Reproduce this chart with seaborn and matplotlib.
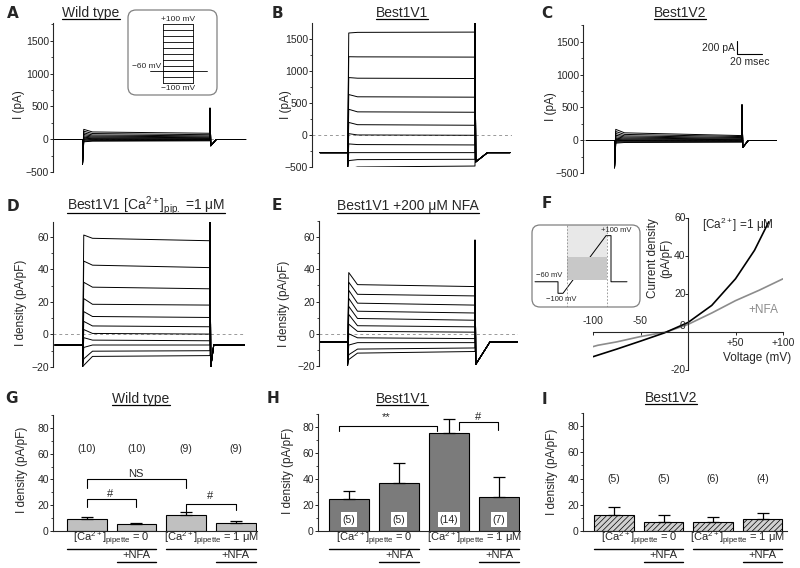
import pandas as pd
import matplotlib
matplotlib.use("Agg")
import matplotlib.pyplot as plt
import matplotlib.transforms as mtransforms
import seaborn as sns
from matplotlib.lines import Line2D
from matplotlib.patches import FancyBboxPatch, Rectangle
from matplotlib.ticker import MultipleLocator

sns.set_style("ticks")
plt.rcParams.update({
    "font.family": ["Liberation Sans", "DejaVu Sans"],
    "mathtext.fontset": "custom",
    "mathtext.rm": "Liberation Sans",
    "mathtext.it": "Liberation Sans:italic",
    "mathtext.bf": "Liberation Sans:bold",
    "mathtext.default": "regular",
    "axes.linewidth": 0.8,
    "hatch.linewidth": 0.5,
})

# ---------------- data ----------------
# voltage steps of the protocol (mV), one trace per step
step_mv = [-100, -80, -60, -40, -20, 0, 20, 40, 60, 80, 100]
T_ON, T_OFF, T_END = 22, 124, 152  # ms

# A: wild type (pA) -> value at onset, after 8 ms, at end of step
wt_peak = [-40, -30, -16, -2, 14, 30, 50, 72, 96, 122, 150]
wt_start = [-30, -22, -13, -3, 8, 19, 32, 47, 64, 86, 110]
wt_end = [-25, -18, -11, -4, 4, 12, 22, 35, 50, 68, 90]
wt_hold, wt_spikes = -5, (-380, 470, -100)

# B: Best1V1 (pA)
v1_peak = [-530, -400, -276, -140, 20, 195, 400, 630, 895, 1220, 1590]
v1_start = [-500, -385, -276, -150, 0, 160, 360, 595, 885, 1218, 1600]
v1_end = [-485, -380, -276, -156, -5, 151, 354, 589, 880, 1214, 1604]
v1_hold, v1_spikes = -276, (-540, 1740, -420)

# C: Best1V2 (pA)
v2_peak = [-45, -32, -18, -4, 12, 30, 52, 76, 102, 132, 165]
v2_start = [-35, -26, -15, -5, 6, 18, 32, 48, 66, 88, 112]
v2_end = [-30, -22, -15, -8, 0, 8, 17, 28, 40, 55, 70]
v2_hold, v2_spikes = -5, (-420, 535, -110)

# D: Best1V1, 1 uM Ca in pipette (pA/pF)
ca_peak = [-19, -15, -8, -2, 3, 8, 14, 22, 32, 45, 61]
ca_start = [-13.5, -10.3, -6.5, -3.5, 0.6, 5.2, 11, 18.5, 29, 42.5, 59]
ca_end = [-13, -10, -6.5, -3.9, 0.2, 4.7, 10.4, 18, 28, 41, 57.5]
ca_hold, ca_spikes = -6.5, (-20, 69, -20)

# E: Best1V1 + 200 uM NFA (pA/pF)
nfa_peak = [-16, -13, -7, 0, 6, 12, 17, 22, 27, 32, 38]
nfa_start = [-12, -9.5, -5.5, -2.5, 1.5, 5, 9.5, 14, 19, 24.5, 30.5]
nfa_end = [-11, -8.8, -5.5, -3, 1, 4.3, 8.4, 12.9, 17.8, 23.5, 29.3]
nfa_hold, nfa_spikes = -5, (-20, 58, -19)

# F: ramp I-V (pA/pF)
iv_mv_ca = [-100, -75, -50, -25, 0, 25, 50, 70, 85]
iv_ca = [-13, -9, -4.8, -0.5, 5, 14, 28, 43, 58]
iv_mv_nfa = [-100, -95, -75, -50, -23, 0, 25, 50, 75, 100]
iv_nfa = [-7.7, -7, -5.2, -2.4, 0, 4, 10, 16.5, 22, 28]
iv_xticks = [-100, -50, 50, 100]
iv_xlabels = ["-100", "-50", "+50", "+100"]
iv_yticks = [60, 40, 20, 0, -20]

# ramp protocol of the F inset
prot_ms = [0, 23, 23, 28, 71, 76, 76, 92]
prot_mv = [-60, -60, -100, -100, 100, 100, -60, -60]

# G-I: summary bars (pA/pF)
conds = ["Ca0", "Ca0 +NFA", "Ca1", "Ca1 +NFA"]
wt_mean = [9.5, 5.1, 12.6, 6.2]
wt_sem = [1.6, 1.1, 2.0, 1.5]
wt_n = ["(10)", "(10)", "(9)", "(9)"]
b1_mean = [24.5, 36.6, 75.4, 26.3]
b1_sem = [6.2, 15.5, 10.8, 15.0]
b1_n = ["(5)", "(5)", "(14)", "(7)"]
b2_mean = [12.1, 7.0, 7.0, 8.8]
b2_sem = [6.5, 5.1, 3.3, 5.1]
b2_n = ["(5)", "(5)", "(6)", "(4)"]

# ---------------- layout helpers ----------------
W, H = 800, 568
PX_MS = 1.25  # pixels per ms in the trace panels
fig = plt.figure(figsize=(W / 100, H / 100), dpi=100)
PX = mtransforms.Affine2D().scale(1 / W, -1 / H).translate(0, 1) + fig.transFigure
titles = []


def px_axes(l, t, r, b):
    ax = fig.add_axes([l / W, 1 - b / H, (r - l) / W, (b - t) / H])
    ax.patch.set_alpha(0)
    return ax


def title(x, y, s):
    titles.append(fig.text(x, y, s, transform=PX, ha="center", va="baseline", fontsize=10))


def letter(x, y, s):
    fig.text(x, y, s, transform=PX, ha="left", va="baseline", fontsize=11,
             fontweight="heavy", family="DejaVu Sans")


def ylab(x, y, s):
    fig.text(x, y, s, transform=PX, ha="center", va="center", rotation=90, fontsize=8.5)


def trace_frame(hold, peak, start, end, spikes, settle=5, t_end=T_END):
    on_dip, off_top, off_dip = spikes
    rows = []
    for k, (p, s, e) in enumerate(zip(peak, start, end)):
        t = [0, T_ON, T_ON, T_ON + 1, T_ON + 8, T_OFF, T_OFF, T_OFF + 0.6, T_OFF + settle, t_end]
        v = [hold, hold, on_dip, p, s, e, off_top, off_dip, hold, hold]
        rows += [(step_mv[k], a, b) for a, b in zip(t, v)]
    return pd.DataFrame(rows, columns=["mV", "t", "I"])


def trace_panel(box, start_px, df, ylim, major, minor):
    l, t, r, b = box
    ax = px_axes(l, t, r, b)
    ax.axhline(0, color="0.6", lw=0.7, ls=(0, (3, 3)), zorder=0)
    sns.lineplot(data=df, x="t", y="I", units="mV", estimator=None, sort=False,
                 color="black", lw=0.7, ax=ax, legend=False)
    ax.set_xlim((l - start_px) / PX_MS, (r - start_px) / PX_MS)
    ax.set_ylim(*ylim)
    ax.yaxis.set_major_locator(MultipleLocator(major))
    ax.yaxis.set_minor_locator(MultipleLocator(minor))
    sns.despine(ax=ax, bottom=True)
    ax.set_xticks([])
    ax.set_xlabel("")
    ax.set_ylabel("")
    ax.tick_params(axis="y", labelsize=7.5, length=2.2, width=0.7, pad=0.8)
    ax.tick_params(axis="y", which="minor", length=1.3, width=0.6)
    return ax


def bar_panel(box, c0, spacing, means, sems, color, hatch=None):
    l, t, r, b = box
    ax = px_axes(l, t, r, b)
    sns.barplot(x=conds, y=means, ax=ax, color=color, edgecolor="black", linewidth=0.8,
                width=0.8, errorbar=None, saturation=1)
    if hatch:
        for p in ax.patches:
            p.set_hatch(hatch)
    ax.errorbar(range(len(means)), means, yerr=[[0] * len(sems), sems], fmt="none",
                ecolor="black", elinewidth=0.9, capsize=4, capthick=0.9)
    ax.set_xlim((l - c0) / spacing, (r - c0) / spacing)
    ax.set_ylim(0, 90)
    ax.yaxis.set_major_locator(MultipleLocator(20))
    ax.yaxis.set_minor_locator(MultipleLocator(10))
    sns.despine(ax=ax)
    ax.set_xticks([])
    ax.set_xlabel("")
    ax.set_ylabel("")
    ax.tick_params(axis="y", labelsize=7.5, length=2.2, width=0.7, pad=0.8)
    ax.tick_params(axis="y", which="minor", length=1.3, width=0.6)
    # condition rows under the bars
    tr = mtransforms.blended_transform_factory(ax.transData, PX)
    for g, lab in ((0, r"[Ca$^{2+}$]$_{pipette}$ = 0"), (2, r"[Ca$^{2+}$]$_{pipette}$ = 1 μM")):
        ax.text(g + 0.5, 539, lab, transform=tr, ha="center", va="center", fontsize=8)
        ax.plot([g - 0.4, g + 1.4], [548.5, 548.5], transform=tr, color="black", lw=1, clip_on=False)
        ax.text(g + 1, 555.5, "+NFA", transform=tr, ha="center", va="center", fontsize=8)
        ax.plot([g + 0.6, g + 1.4], [562, 562], transform=tr, color="black", lw=1, clip_on=False)
    return ax


def bracket(ax, x1, x2, y1, y2, top, label, ly, lx=None):
    ax.plot([x1, x1, x2, x2], [y1, top, top, y2], color="black", lw=0.8)
    ax.text((x1 + x2) / 2 if lx is None else lx, ly, label, ha="center", va="center", fontsize=8)


def rounded_box(x, y, w, h):
    fig.add_artist(FancyBboxPatch((x, y), w, h, boxstyle="round,pad=0,rounding_size=8",
                                  transform=PX, ec="0.5", fc="none", lw=0.9))


# ---------------- A-E: current traces ----------------
trace_panel((53, 23, 247, 172), 55, trace_frame(wt_hold, wt_peak, wt_start, wt_end, wt_spikes),
            (-500, 1770), 500, 250)
trace_panel((312, 23, 512, 167), 320, trace_frame(v1_hold, v1_peak, v1_start, v1_end, v1_spikes, settle=10),
            (-500, 1746), 500, 250)
axC = trace_panel((583, 25, 777, 173), 587, trace_frame(v2_hold, v2_peak, v2_start, v2_end, v2_spikes),
                  (-500, 1755), 500, 250)
trace_panel((53, 222, 245, 367), 55, trace_frame(ca_hold, ca_peak, ca_start, ca_end, ca_spikes, settle=3),
            (-20, 69), 20, 10)
trace_panel((319, 221, 518, 366), 320,
            trace_frame(nfa_hold, nfa_peak, nfa_start, nfa_end, nfa_spikes, settle=12, t_end=158),
            (-20, 70), 20, 10)

# scale bar in C
SCALE_PA, SCALE_MS, SB_X, SB_Y = 200, 20, 120, 1310
axC.plot([SB_X, SB_X, SB_X + SCALE_MS], [SB_Y + SCALE_PA, SB_Y, SB_Y], color="black", lw=0.8)
axC.text(SB_X - 2, SB_Y + SCALE_PA / 2, f"{SCALE_PA} pA", ha="right", va="center", fontsize=7.5)
axC.text(SB_X + SCALE_MS / 2, SB_Y - 115, f"{SCALE_MS} msec", ha="center", va="center", fontsize=7.5)

# inset A: step protocol
rounded_box(128, 10, 89, 85)
ins = px_axes(128, 10, 217, 95)
ins.axis("off")
ins.set_xlim(-1.157, 1.81)
ins.set_ylim(-139.5, 147.2)
for v in step_mv:
    ins.plot([0, 1], [v, v], color="black", lw=0.6)
ins.plot([0, 0], [-100, 100], color="black", lw=0.6)
ins.plot([1, 1], [-100, 100], color="black", lw=0.6)
ins.plot([-0.42, 1.47], [-60, -60], color="black", lw=0.6)
ins.text(0.5, 114, "+100 mV", ha="center", va="center", fontsize=6)
ins.text(-1.02, -44, "\u221260 mV", ha="left", va="center", fontsize=6)
ins.text(0.51, -119, "\u2212100 mV", ha="center", va="center", fontsize=6)

# ---------------- F: I-V ----------------
axF = px_axes(593, 218, 783, 370)
sns.lineplot(data=pd.DataFrame({"V": iv_mv_nfa, "I": iv_nfa}), x="V", y="I", color="#8c8c8c",
             lw=1.2, ax=axF)
sns.lineplot(data=pd.DataFrame({"V": iv_mv_ca, "I": iv_ca}), x="V", y="I", color="black",
             lw=1.2, ax=axF)
axF.set_xlim(-100, 100)
axF.set_ylim(-20, 60)
axF.spines["left"].set_position(("data", 0))
axF.spines["bottom"].set_position(("data", 0))
axF.spines[["top", "right"]].set_visible(False)
axF.set_xticks(iv_xticks)
axF.set_xticklabels([])
axF.set_yticks(iv_yticks)
axF.set_yticklabels([])
axF.set_xlabel("")
axF.set_ylabel("")
axF.tick_params(length=2.2, width=0.7)
for v, lab in zip(iv_xticks, iv_xlabels):
    axF.text(v, 5.8 if v < 0 else -5.6, lab, ha="center", va="center", fontsize=7.5)
for v in iv_yticks:
    axF.text(-2.5, v + (0.4 if v == 0 else 0), str(v), ha="right",
             va="bottom" if v == 0 else "center", fontsize=7.5)
fig.text(660, 258, "Current density\n(pA/pF)", transform=PX, rotation=90, ha="center",
         va="center", fontsize=8.5, linespacing=1.15)
fig.text(757, 358, "Voltage (mV)", transform=PX, ha="center", va="center", fontsize=8.5)
fig.text(702, 225, r"[Ca$^{2+}$] =1 μM", transform=PX, ha="left", va="center", fontsize=8.5)
fig.text(748, 310, "+NFA", transform=PX, ha="left", va="center", fontsize=8.5, color="#8c8c8c")

# inset F: ramp protocol
rounded_box(532, 225, 108, 82)
insF = px_axes(532, 225, 640, 307)
insF.axis("off")
insF.set_xlim(-3, 105)
insF.set_ylim(-147.6, 137)
insF.add_patch(Rectangle((32, 27), 40, 110, fc="#e8e8e8", ec="none", zorder=1))
insF.add_patch(Rectangle((32, -53.6), 40, 80.6, fc="#c8c8c8", ec="none", zorder=3))
insF.axvline(32, color="0.55", lw=0.6, ls=(0, (2, 2)), zorder=4)
insF.axvline(72, color="0.55", lw=0.6, ls=(0, (2, 2)), zorder=4)
insF.plot(prot_ms, prot_mv, color="black", lw=0.7, zorder=2)
insF.text(1, -40, "\u221260 mV", ha="left", va="center", fontsize=5.5, zorder=5)
insF.text(26.7, -121, "\u2212100 mV", ha="center", va="center", fontsize=5.5, zorder=5)
insF.text(81.7, 118, "+100 mV", ha="center", va="center", fontsize=5.5, zorder=5)

# ---------------- G-I: bar summaries ----------------
axG = bar_panel((53, 415, 257, 531), 86.7, 49.7, wt_mean, wt_sem, "#c0c0c0")
for i, n in enumerate(wt_n):
    axG.text(i, 63.7, n, ha="center", va="center", fontsize=7.5)
bracket(axG, 0, 1, 18.6, 18.6, 25, "#", 28.9, 0.48)
bracket(axG, 0, 2, 33.5, 33.5, 40, "NS", 44.4, 0.99)
bracket(axG, 2, 3, 14.7, 16, 21.2, "#", 26.8, 2.49)

axH = bar_panel((318, 414, 520, 531), 349, 50, b1_mean, b1_sem, "#7b7b7b")
for i, n in enumerate(b1_n):
    axH.text(i, 8.8, n, ha="center", va="center", fontsize=7.5,
             bbox=dict(fc="white", ec="none", pad=1.5))
bracket(axH, -0.21, 1.75, 76.6, 76.6, 80.5, "**", 87.5, 0.75)
bracket(axH, 2.2, 2.97, 77.9, 77.9, 83.9, "#", 87.5, 2.59)

axI = bar_panel((583, 413, 787, 531), 614, 49.5, b2_mean, b2_sem, "#d0d0d0", hatch="//////")
for i, n in enumerate(b2_n):
    axI.text(i, 40, n, ha="center", va="center", fontsize=7.5)

# ---------------- titles, letters, y labels ----------------
title(91, 16.7, "Wild type")
title(402, 16.7, "Best1V1")
title(680, 16.7, "Best1V2")
title(146, 210, r"Best1V1 [Ca$^{2+}$]$_{pip.}$ =1 μM")
title(408, 210, "Best1V1 +200 μM NFA")
title(141, 402.7, "Wild type")
title(402, 402.7, "Best1V1")
title(671, 401.7, "Best1V2")

for x, y, s in ((6.7, 18.3, "A"), (271.7, 18.3, "B"), (541.7, 18.3, "C"),
                (6.7, 210.7, "D"), (271.7, 210.3, "E"), (541.7, 208.3, "F"),
                (5, 403.3, "G"), (266.7, 403.3, "H"), (541.7, 404, "I")):
    letter(x, y, s)

ylab(19, 105, "I (pA)")
ylab(285.8, 105, "I (pA)")
ylab(550.8, 106.7, "I (pA)")
ylab(20.8, 303.3, "I density (pA/pF)")
ylab(284, 304, "I density (pA/pF)")
ylab(22.5, 470, "I density (pA/pF)")
ylab(287.5, 470.8, "I density (pA/pF)")
ylab(552.5, 471.7, "I density (pA/pF)")

# underline the panel titles
fig.canvas.draw()
for txt in titles:
    bb = txt.get_window_extent()
    y = txt.get_position()[1] + 2.5
    fig.add_artist(Line2D([bb.x0, bb.x1], [y, y], transform=PX, color="black", lw=0.9))

fig.savefig("out.png", dpi=100)
